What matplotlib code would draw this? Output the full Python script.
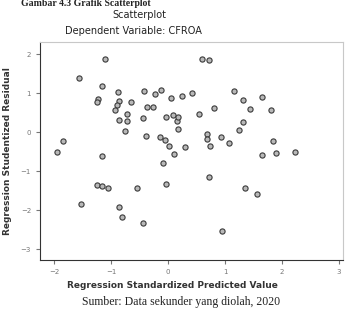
import matplotlib.pyplot as plt

# standardized predicted value (x) and studentized residual (y)
pred = [-1.11, -1.56, -1.16, -0.89, -0.43, -0.23, -0.12, 0.05, -1.24, -1.25,
        -0.86, -0.65, -0.90, -0.93, -0.37, -0.26, -0.72, -0.72, -0.87, -0.44,
        -0.04, 0.08, 0.15, 0.17, -0.75, -0.39, -0.15, -0.05, 0.02, 0.11,
        -1.85, -1.95, -1.16, -0.09, 0.59, 0.72, 1.15, 1.64, 0.42, 0.24,
        1.32, 0.81, 1.44, 1.81, 0.54, 0.18, 1.31, 1.25, 0.68, 0.69,
        0.74, 0.93, 1.07, 0.30, 1.85, 1.89, 1.65, 2.22, 0.71, -1.25,
        -1.16, -1.05, -0.55, -0.04, -1.54, -0.87, -0.81, -0.44, 1.35, 1.56,
        0.95]
resid = [1.87, 1.38, 1.19, 1.03, 1.06, 0.97, 1.08, 0.88, 0.86, 0.76,
         0.80, 0.77, 0.69, 0.56, 0.65, 0.65, 0.46, 0.28, 0.31, 0.37,
         0.38, 0.43, 0.28, 0.07, 0.03, -0.09, -0.12, -0.21, -0.36, -0.57,
         -0.23, -0.50, -0.62, -0.78, 1.87, 1.86, 1.05, 0.89, 0.99, 0.93,
         0.82, 0.61, 0.58, 0.56, 0.46, 0.39, 0.26, 0.05, -0.06, -0.18,
         -0.36, -0.12, -0.27, -0.38, -0.23, -0.53, -0.59, -0.50, -1.16, -1.36,
         -1.38, -1.44, -1.44, -1.33, -1.85, -1.93, -2.17, -2.34, -1.42, -1.59,
         -2.53]

xticks = [-2, -1, 0, 1, 2, 3]
yticks = [2, 1, 0, -1, -2, -3]

fig = plt.figure(figsize=(3.55, 3.18), dpi=100)
ax = fig.add_axes([0.113, 0.182, 0.853, 0.686])

ax.scatter(pred, resid, s=14, facecolor='#b8b8b8', edgecolor='#3a3a3a', linewidths=0.8)

ax.set_xlim(-2.25, 3.07)
ax.set_ylim(-3.28, 2.31)
ax.set_xticks(xticks)
ax.set_yticks(yticks)
ax.tick_params(labelsize=5, colors='#777777', length=3, width=0.8)

for s in ['left', 'bottom']:
    ax.spines[s].set_color('#333333')
for s in ['top', 'right']:
    ax.spines[s].set_color('#c8c8c8')

ax.set_ylabel('Regression Studentized Residual', fontsize=6.5,
              fontweight='bold', color='#333333', labelpad=6)

fig.text(0.487, 1 - 285 / 318, 'Regression Standardized Predicted Value', ha='center',
         va='center', fontsize=6.5, fontweight='bold', color='#333333')
fig.text(0.394, 1 - 15 / 318, 'Scatterplot', ha='center', va='center',
         fontsize=7, color='#222222')
fig.text(0.375, 1 - 31 / 318, 'Dependent Variable: CFROA', ha='center', va='center',
         fontsize=7, color='#222222')
fig.text(0.06, 1 - 4 / 318, 'Gambar 4.3 Grafik Scatterplot', ha='left', va='center',
         fontsize=7, family='Liberation Serif', fontweight='bold', color='#222222')
fig.text(0.51, 1 - 302 / 318, 'Sumber: Data sekunder yang diolah, 2020', ha='center',
         va='center', fontsize=8.5, family='Liberation Serif', color='#222222')

fig.savefig('out.png', dpi=100)
